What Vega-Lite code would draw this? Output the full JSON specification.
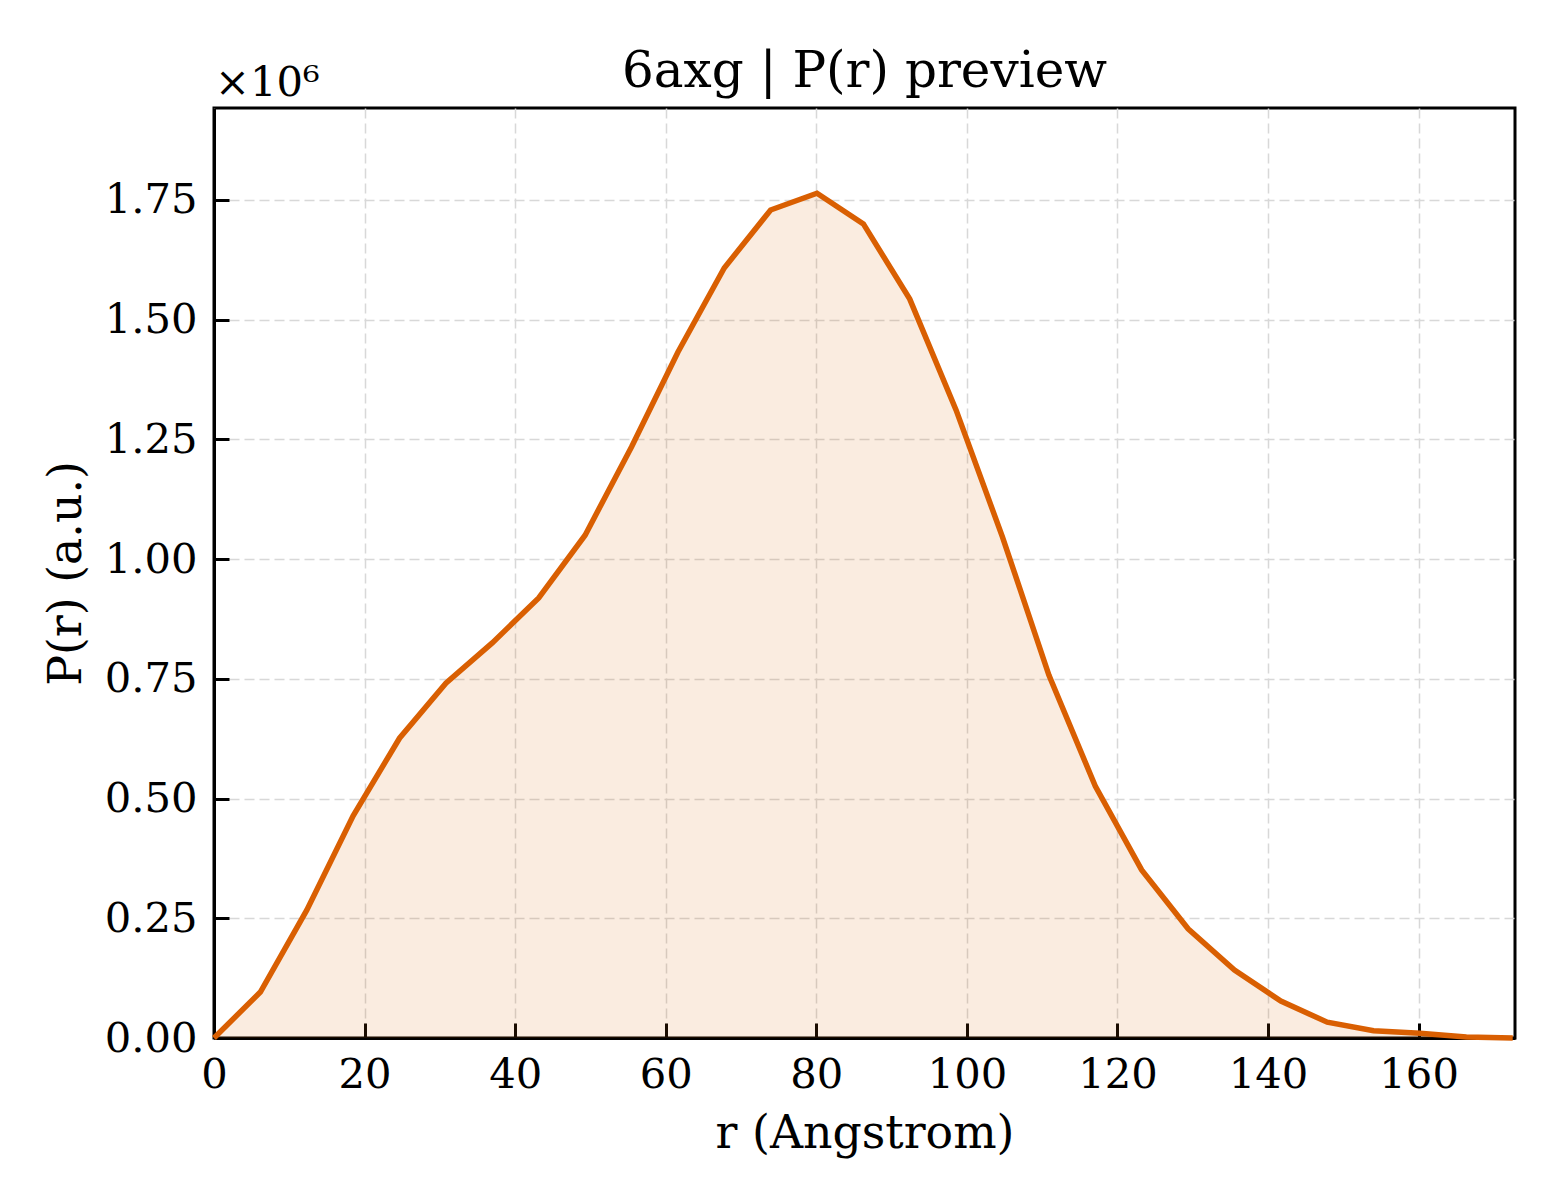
{
  "$schema": "https://vega.github.io/schema/vega-lite/v6.json",
  "autosize": "none",
  "width": 1301,
  "height": 930,
  "padding": {"left": 214, "top": 108, "right": 45, "bottom": 162},
  "background": "white",
  "title": {
    "text": "6axg | P(r) preview",
    "font": "DejaVu Serif",
    "fontSize": 50,
    "fontWeight": "normal",
    "color": "black",
    "offset": 14,
    "dy": 48
  },
  "layer": [
    {
      "data": {"name": "pr_values"},
      "mark": {"type": "area", "color": "#D95F02", "opacity": 0.12},
      "encoding": {
        "x": {
          "field": "r",
          "type": "quantitative",
          "title": "r (Angstrom)",
          "scale": {"domain": [0, 172.8], "nice": false, "zero": false},
          "axis": {"values": [0, 20, 40, 60, 80, 100, 120, 140, 160]}
        },
        "y": {
          "field": "pr",
          "type": "quantitative",
          "title": "P(r) (a.u.)",
          "scale": {"domain": [0, 1942000], "nice": false},
          "axis": {
            "values": [0, 250000, 500000, 750000, 1000000, 1250000, 1500000, 1750000],
            "labelExpr": "format(datum.value / 1000000, '.2f')"
          }
        }
      }
    },
    {
      "data": {"name": "pr_values"},
      "mark": {"type": "line", "color": "#D95F02", "strokeWidth": 5.5},
      "encoding": {
        "x": {"field": "r", "type": "quantitative"},
        "y": {"field": "pr", "type": "quantitative"}
      }
    },
    {
      "data": {"values": [{"label": "×10⁶", "r": 0, "pr": 1942000}]},
      "mark": {
        "type": "text",
        "font": "DejaVu Serif",
        "fontSize": 41.7,
        "align": "left",
        "baseline": "alphabetic",
        "dx": 1,
        "dy": -12,
        "color": "black"
      },
      "encoding": {
        "x": {"field": "r", "type": "quantitative"},
        "y": {"field": "pr", "type": "quantitative"},
        "text": {"field": "label"}
      }
    }
  ],
  "datasets": {
    "pr_values": [
      {"r": 0, "pr": 0},
      {"r": 6.16, "pr": 96000},
      {"r": 12.32, "pr": 267000},
      {"r": 18.48, "pr": 464000},
      {"r": 24.64, "pr": 626000},
      {"r": 30.8, "pr": 741000},
      {"r": 36.96, "pr": 825000},
      {"r": 43.13, "pr": 919000},
      {"r": 49.29, "pr": 1050000},
      {"r": 55.45, "pr": 1234000},
      {"r": 61.61, "pr": 1432000},
      {"r": 67.77, "pr": 1608000},
      {"r": 73.93, "pr": 1729000},
      {"r": 80.09, "pr": 1764000},
      {"r": 86.25, "pr": 1700000},
      {"r": 92.41, "pr": 1543000},
      {"r": 98.57, "pr": 1311000},
      {"r": 104.73, "pr": 1046000},
      {"r": 110.89, "pr": 758000},
      {"r": 117.05, "pr": 526000},
      {"r": 123.21, "pr": 351000},
      {"r": 129.38, "pr": 228000},
      {"r": 135.54, "pr": 142000},
      {"r": 141.7, "pr": 77000},
      {"r": 147.86, "pr": 33000},
      {"r": 154.02, "pr": 15000},
      {"r": 160.18, "pr": 10000},
      {"r": 166.34, "pr": 2000},
      {"r": 172.5, "pr": 0}
    ]
  },
  "config": {
    "view": {"stroke": "black", "strokeWidth": 3},
    "axis": {
      "domainColor": "black",
      "domainWidth": 3,
      "tickColor": "black",
      "tickWidth": 3,
      "tickSize": -15,
      "labelFont": "DejaVu Serif",
      "labelFontSize": 41.7,
      "labelColor": "black",
      "labelFlush": false,
      "titleFont": "DejaVu Serif",
      "titleFontSize": 45.8,
      "titleFontWeight": "normal",
      "titleColor": "black",
      "grid": true,
      "gridColor": "#d8d8d8",
      "gridWidth": 1.5,
      "gridDash": [10, 5]
    },
    "axisX": {"labelPadding": 31, "titlePadding": 16},
    "axisY": {"labelPadding": 32, "titlePadding": 14}
  }
}
